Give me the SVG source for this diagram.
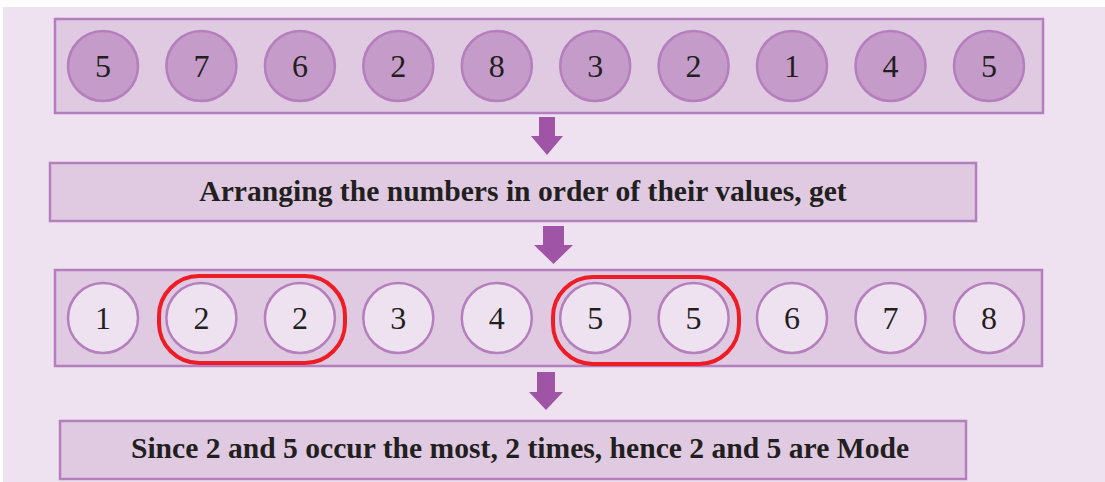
<svg xmlns="http://www.w3.org/2000/svg" width="1105" height="482" viewBox="0 0 1105 482">
<defs>
<style>
.bg{fill:#EEE2F0}
.box{fill:#DFCAE2;stroke:#B57EBD;stroke-width:2.5}
.c1{fill:#C59BC9;stroke:#B57EBD;stroke-width:2.5}
.c2{fill:#EEE2F0;stroke:#B57EBD;stroke-width:2.5}
.num{font-family:"Liberation Serif",serif;font-size:32px;fill:#231F20;text-anchor:middle}
.lbl{font-family:"Liberation Serif",serif;font-size:29.6px;font-weight:bold;fill:#231F20;text-anchor:middle}
.grp{fill:none;stroke:#EE1C25;stroke-width:4}
.arr{fill:#A054A6}
</style>
</defs>
<rect width="1105" height="482" fill="#FFFFFF"/>
<rect class="bg" x="3" y="7" width="1102" height="475"/>
<g id="row1">
<rect class="box" x="55" y="19" width="988" height="94"/>
<g class="c1">
<circle cx="103" cy="66" r="35"/><circle cx="201.4" cy="66" r="35"/><circle cx="299.9" cy="66" r="35"/><circle cx="398.3" cy="66" r="35"/><circle cx="496.8" cy="66" r="35"/><circle cx="595.2" cy="66" r="35"/><circle cx="693.6" cy="66" r="35"/><circle cx="792" cy="66" r="35"/><circle cx="890.5" cy="66" r="35"/><circle cx="989" cy="66" r="35"/>
</g>
<g class="num">
<text x="103" y="77">5</text><text x="201.4" y="77">7</text><text x="299.9" y="77">6</text><text x="398.3" y="77">2</text><text x="496.8" y="77">8</text><text x="595.2" y="77">3</text><text x="693.6" y="77">2</text><text x="792" y="77">1</text><text x="890.5" y="77">4</text><text x="989" y="77">5</text>
</g>
</g>
<g id="step">
<rect class="box" x="50" y="163" width="926" height="58"/>
<text class="lbl" x="523" y="201">Arranging the numbers in order of their values, get</text>
</g>
<g id="row2">
<rect class="box" x="55" y="270" width="987" height="96"/>
<g class="c2">
<circle cx="103" cy="318" r="35"/><circle cx="201.4" cy="318" r="35"/><circle cx="299.9" cy="318" r="35"/><circle cx="398.3" cy="318" r="35"/><circle cx="496.8" cy="318" r="35"/><circle cx="595.2" cy="318" r="35"/><circle cx="693.6" cy="318" r="35"/><circle cx="792" cy="318" r="35"/><circle cx="890.5" cy="318" r="35"/><circle cx="989" cy="318" r="35"/>
</g>
<g class="num">
<text x="103" y="329">1</text><text x="201.4" y="329">2</text><text x="299.9" y="329">2</text><text x="398.3" y="329">3</text><text x="496.8" y="329">4</text><text x="595.2" y="329">5</text><text x="693.6" y="329">5</text><text x="792" y="329">6</text><text x="890.5" y="329">7</text><text x="989" y="329">8</text>
</g>
<rect class="grp" x="159" y="276" width="186" height="87" rx="40"/>
<rect class="grp" x="553" y="277" width="186" height="87" rx="40"/>
</g>
<g id="result">
<rect class="box" x="60" y="421" width="906" height="58"/>
<text class="lbl" x="520" y="458">Since 2 and 5 occur the most, 2 times, hence 2 and 5 are Mode</text>
</g>
<g id="connectors" class="arr">
<polygon points="539,117 555,117 555,136 563,136 547,155 531,136 539,136"/>
<polygon points="543,226 564,226 564,245 573,245 553.5,264 534,245 543,245"/>
<polygon points="537,372 555,372 555,392 563,392 546,410 529,392 537,392"/>
</g>
</svg>
